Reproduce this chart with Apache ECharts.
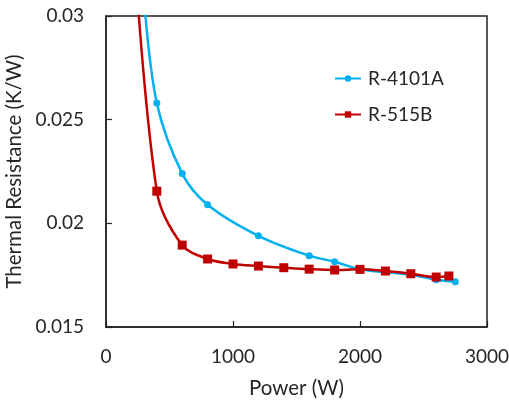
<!DOCTYPE html>
<html><head><meta charset="utf-8">
<script src="https://cdn.jsdelivr.net/npm/echarts@6/dist/echarts.min.js"></script>
<style>html,body{margin:0;padding:0;background:#fff}#c{width:509px;height:400px}</style>
</head><body><div id="c"></div>
<script>
const seriesNames = ['R-4101A', 'R-515B'];
const powerA = [300, 400, 600, 800, 1200, 1600, 1800, 2000, 2400, 2600, 2750];
const resistA = [0.0308, 0.0258, 0.0224, 0.0209, 0.0194, 0.01844, 0.01815, 0.01779, 0.01752, 0.01728, 0.01718];
const powerB = [200, 400, 600, 800, 1000, 1200, 1400, 1600, 1800, 2000, 2200, 2400, 2600, 2700];
const resistB = [0.0352, 0.02155, 0.01895, 0.01828, 0.01804, 0.01794, 0.01786, 0.01779, 0.01775, 0.01778, 0.0177, 0.01757, 0.01741, 0.01746];
const xTicks = [0, 1000, 2000, 3000];
const yTicks = [0.015, 0.02, 0.025, 0.03];

const FONT = 'Lato';
const TXT = '#262626';
const chart = echarts.init(document.getElementById('c'), null, {renderer: 'canvas'});
const zip = (xs, ys) => xs.map((x, i) => [x, ys[i]]);
chart.setOption({
  animation: false,
  backgroundColor: '#fff',
  textStyle: {fontFamily: FONT},
  grid: {left: 106, top: 16, right: 22, bottom: 73, show: true, borderColor: '#222', borderWidth: 1.5,
         containLabel: false, outerBoundsMode: 'none'},
  legend: {
    orient: 'vertical', left: 334, top: 69, padding: 0, itemGap: 17, itemWidth: 26, itemHeight: 8,
    textStyle: {fontFamily: FONT, fontSize: 19, color: TXT, padding: [0, 0, 0, 2]},
    data: seriesNames
  },
  xAxis: {
    type: 'value', min: xTicks[0], max: xTicks[xTicks.length - 1], interval: 1000,
    name: 'Power (W)', nameLocation: 'middle', nameGap: 51,
    nameTextStyle: {fontFamily: FONT, fontSize: 20.5, color: TXT},
    axisLine: {show: true, lineStyle: {color: '#222', width: 1.5}},
    axisTick: {show: true, inside: true, length: 6, lineStyle: {color: '#222', width: 1.2}},
    axisLabel: {fontFamily: FONT, fontSize: 19, color: TXT, margin: 20, formatter: v => String(v)},
    splitLine: {show: false}
  },
  yAxis: {
    type: 'value', min: yTicks[0], max: yTicks[yTicks.length - 1], interval: 0.005,
    name: 'Thermal Resistance (K/W)', nameLocation: 'middle', nameGap: 77,
    nameTextStyle: {fontFamily: FONT, fontSize: 20.5, color: TXT},
    axisLine: {show: true, lineStyle: {color: '#222', width: 1.5}},
    axisTick: {show: true, inside: true, length: 6, lineStyle: {color: '#222', width: 1.2}},
    axisLabel: {fontFamily: FONT, fontSize: 19, color: TXT, margin: 22},
    splitLine: {show: false}
  },
  series: [
    {
      name: seriesNames[0], type: 'line', smooth: 0.35, clip: true,
      data: zip(powerA, resistA),
      symbol: 'circle', symbolSize: 7,
      lineStyle: {color: '#00B0F0', width: 2.5},
      itemStyle: {color: '#00B0F0'}
    },
    {
      name: seriesNames[1], type: 'line', smooth: 0.35, clip: true,
      data: zip(powerB, resistB),
      symbol: 'rect', symbolSize: 9,
      lineStyle: {color: '#C00000', width: 2.5},
      itemStyle: {color: '#C00000'}
    }
  ]
});
</script></body></html>
